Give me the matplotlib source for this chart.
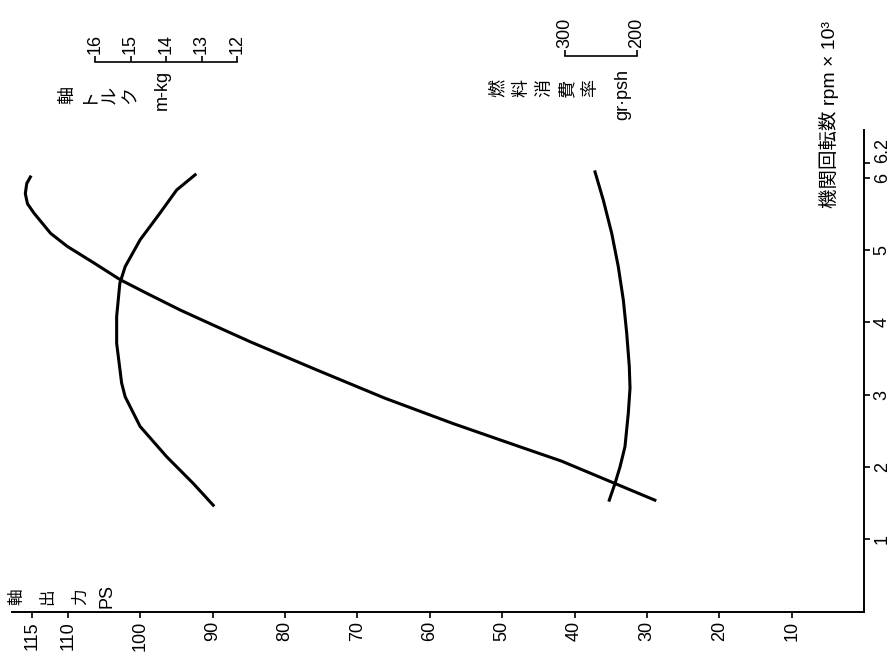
import matplotlib
matplotlib.use("Agg")
from matplotlib import pyplot as plt

# shaft output (PS) against engine speed (x1000 rpm)
power_rpm = [1.54, 1.77, 2.08, 2.28, 2.60, 2.95, 3.34, 3.73, 3.96, 4.17, 4.40, 4.59, 4.82, 5.05, 5.23,
             5.51, 5.64, 5.78, 5.92, 6.01]
power_ps = [28.9, 34.4, 41.8, 47.6, 56.8, 66.2, 75.6, 84.8, 89.9, 94.5, 99.1, 102.8, 106.4, 110.1, 112.4,
            114.7, 115.6, 115.9, 115.7, 115.2]

# shaft torque (m-kg)
torque_rpm = [1.47, 1.77, 2.14, 2.56, 2.97, 3.16, 3.71, 4.08, 4.54, 4.77, 5.14, 5.51, 5.83, 6.04]
torque_kgm = [12.67, 13.23, 13.98, 14.73, 15.15, 15.25, 15.39, 15.39, 15.30, 15.15, 14.73, 14.17, 13.70, 13.18]

# fuel consumption rate (gr/psh)
fuel_rpm = [1.54, 1.77, 2.00, 2.28, 2.74, 3.09, 3.39, 3.85, 4.31, 4.77, 5.23, 5.69, 6.08]
fuel_gpsh = [238.5, 230.6, 223.6, 216.7, 212.1, 209.7, 210.7, 214.3, 219.0, 226.0, 235.1, 246.8, 258.3]

ps_ticks = [10, 20, 30, 40, 50, 60, 70, 80, 90, 100, 110, 115]
rpm_ticks = [1, 2, 3, 4, 5, 6, 6.2]
rpm_labels = ["1", "2", "3", "4", "5", "6", "6.2"]
torque_ticks = [12, 13, 14, 15, 16]
fuel_ticks = [200, 300]

W, H = 894, 670
plt.rcParams['font.family'] = ['Liberation Sans', 'Noto Sans CJK JP', 'DejaVu Sans']
cjk = ['Noto Sans CJK JP', 'DejaVu Sans']

# plot box in pixels: PS runs right-to-left along the bottom, rpm upward on the right
X0, X1 = 12, 864
Y_TOP, Y_BOT = 130, 611.5


def fpos(x, y):
    return x / W, 1 - y / H


def lims(v_a, px_a, v_b, px_b):
    # value range spanning the plot box, given two values and their pixel columns
    k = (v_b - v_a) / (px_b - px_a)
    return v_a + (X0 - px_a) * k, v_a + (X1 - px_a) * k


def spine_at(y_px):
    return (Y_BOT - y_px) / (Y_BOT - Y_TOP)


fig = plt.figure(figsize=(W / 100, H / 100), dpi=100)
ax = fig.add_axes([X0 / W, 1 - Y_BOT / H, (X1 - X0) / W, (Y_BOT - Y_TOP) / H])
ax.patch.set_visible(False)

ax.plot(power_ps, power_rpm, color='black', lw=2.2, solid_joinstyle='round')
ax.set_xlim(*lims(0, 864, 110, 68))
ax.set_ylim(0, (Y_BOT - Y_TOP) / 72.3)

for s in ('top', 'left'):
    ax.spines[s].set_visible(False)
for s in ('bottom', 'right'):
    ax.spines[s].set_linewidth(1.4)

ax.set_xticks(ps_ticks)
ax.set_xticklabels([str(v) for v in ps_ticks], rotation=90)
ax.tick_params(axis='x', direction='out', length=4, width=1.2, pad=3, labelsize=13)

ax.yaxis.tick_right()
ax.set_yticks(rpm_ticks)
ax.set_yticklabels(rpm_labels, rotation=90)
ax.tick_params(axis='y', direction='out', length=4, width=1.2, pad=3, labelsize=13)
for lab in ax.get_yticklabels():
    lab.set_va('center')
ax.get_yticklabels()[-1].set_va('bottom')

# torque scale with its own bracket above the plot
ax_t = ax.twiny()
ax_t.plot(torque_kgm, torque_rpm, color='black', lw=2.2, solid_joinstyle='round')
ax_t.set_xlim(*lims(12, 237, 16, 95))
for s in ('bottom', 'left', 'right'):
    ax_t.spines[s].set_visible(False)
ax_t.spines['top'].set_position(('axes', spine_at(62)))
ax_t.spines['top'].set_bounds(12, 16)
ax_t.spines['top'].set_linewidth(1.2)
ax_t.set_xticks(torque_ticks)
ax_t.set_xticklabels([str(v) for v in torque_ticks], rotation=90)
ax_t.tick_params(axis='x', direction='out', length=4, width=1.2, pad=2, labelsize=13)

# fuel consumption scale
ax_f = ax.twiny()
ax_f.plot(fuel_gpsh, fuel_rpm, color='black', lw=2.2, solid_joinstyle='round')
ax_f.set_xlim(*lims(200, 637, 300, 565))
for s in ('bottom', 'left', 'right'):
    ax_f.spines[s].set_visible(False)
ax_f.spines['top'].set_position(('axes', spine_at(56)))
ax_f.spines['top'].set_bounds(200, 300)
ax_f.spines['top'].set_linewidth(1.2)
ax_f.set_xticks(fuel_ticks)
ax_f.set_xticklabels([str(v) for v in fuel_ticks], rotation=90)
ax_f.tick_params(axis='x', direction='out', length=4, width=1.2, pad=2, labelsize=13)

# axis titles, one glyph per column as in vertical writing turned sideways
for ch, x in zip(['軸', '出', '力'], [17, 48, 80]):
    fig.text(*fpos(x, 597), ch, rotation=90, ha='center', va='center', fontsize=12, family=cjk)
fig.text(*fpos(107, 596), 'PS', rotation=90, ha='center', va='center', fontsize=13)

for ch, x in zip(['軸', 'ト', 'ル', 'ク'], [67, 87, 109, 131]):
    fig.text(*fpos(x, 95), ch, rotation=90, ha='center', va='center', fontsize=13, family=cjk)
fig.text(*fpos(162, 90), 'm-kg', rotation=90, ha='center', va='center', fontsize=13)

for ch, x in zip(['燃', '料', '消', '費', '率'], [498, 521, 544, 567, 590]):
    fig.text(*fpos(x, 88), ch, rotation=90, ha='center', va='center', fontsize=13, family=cjk)
fig.text(*fpos(623, 94), 'gr·psh', rotation=90, ha='center', va='center', fontsize=13)

fig.text(*fpos(829, 208), '機関回転数 rpm × 10³', rotation=90, ha='center', va='bottom',
         fontsize=14)

fig.savefig('out.png', dpi=100)
